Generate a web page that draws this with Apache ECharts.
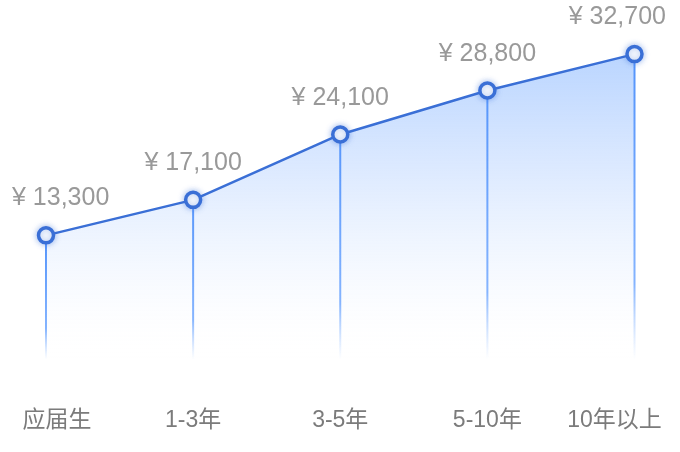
<!DOCTYPE html>
<html>
<head>
<meta charset="utf-8">
<script src="https://cdn.jsdelivr.net/npm/echarts@6/dist/echarts.min.js"></script>
<style>
html,body{margin:0;padding:0;background:#fff;}
#main{width:680px;height:452px;}
</style>
</head>
<body>
<div id="main"></div>
<script>
var categories = ['应届生', '1-3年', '3-5年', '5-10年', '10年以上'];
var salaries = [13300, 17100, 24100, 28800, 32700];

var FONT = '"Liberation Sans", "Noto Sans CJK SC", sans-serif';
var chart = echarts.init(document.getElementById('main'));

function fmt(v) {
  return '¥ ' + String(v).replace(/\B(?=(\d{3})+(?!\d))/g, ',');
}

chart.setOption({
  animation: false,
  grid: { left: 46, right: 45.5, top: 4.6, bottom: 92.4, containLabel: false },
  xAxis: {
    type: 'category',
    data: categories,
    boundaryGap: false,
    axisLine: { show: false },
    axisTick: { show: false },
    splitLine: { show: false },
    axisLabel: {
      interval: 0,
      margin: 50,
      color: '#7b7b7b',
      fontSize: 23,
      fontFamily: FONT,
      formatter: function (v, i) {
        if (i === 0) return '{first|' + v + '}';
        if (i === categories.length - 1) return '{last|' + v + '}';
        return v;
      },
      rich: {
        first: { padding: [0, 0, 0, 22], color: '#7b7b7b', fontSize: 23, fontFamily: FONT },
        last: { padding: [0, 40, 0, 0], color: '#7b7b7b', fontSize: 23, fontFamily: FONT }
      }
    }
  },
  yAxis: {
    type: 'value',
    min: 0,
    max: 38000,
    show: false,
    splitLine: { show: false }
  },
  series: [
    {
      type: 'bar',
      data: salaries,
      barWidth: 2,
      z: 1,
      itemStyle: {
        color: new echarts.graphic.LinearGradient(0, 0, 0, 1, [
          { offset: 0, color: 'rgba(80,145,250,1)' },
          { offset: 0.75, color: 'rgba(100,160,255,0.8)' },
          { offset: 1, color: 'rgba(140,185,255,0)' }
        ])
      },
      silent: true
    },
    {
      type: 'line',
      data: salaries,
      z: 3,
      symbol: 'circle',
      symbolSize: 15,
      lineStyle: { color: '#3a6fd6', width: 2.5 },
      itemStyle: {
        color: '#ffffff',
        borderColor: '#3a6fd6',
        borderWidth: 3.5,
        shadowColor: 'rgba(58,111,214,0.45)',
        shadowBlur: 6
      },
      areaStyle: {
        color: new echarts.graphic.LinearGradient(0, 0, 0, 1, [
          { offset: 0, color: 'rgba(90,155,255,0.6)' },
          { offset: 0.4, color: 'rgba(110,165,255,0.32)' },
          { offset: 0.75, color: 'rgba(150,190,255,0.1)' },
          { offset: 1, color: 'rgba(255,255,255,0)' }
        ])
      },
      label: {
        show: true,
        position: 'top',
        distance: 15,
        color: '#999999',
        fontSize: 25,
        fontFamily: FONT,
        formatter: function (p) { return fmt(p.value); }
      },
      labelLayout: function (p) {
        var r = p.labelRect;
        if (r.x < 12) return { dx: 12 - r.x };
        if (r.x + r.width > 666) return { dx: 666 - (r.x + r.width) };
        return {};
      }
    }
  ]
});
</script>
</body>
</html>
